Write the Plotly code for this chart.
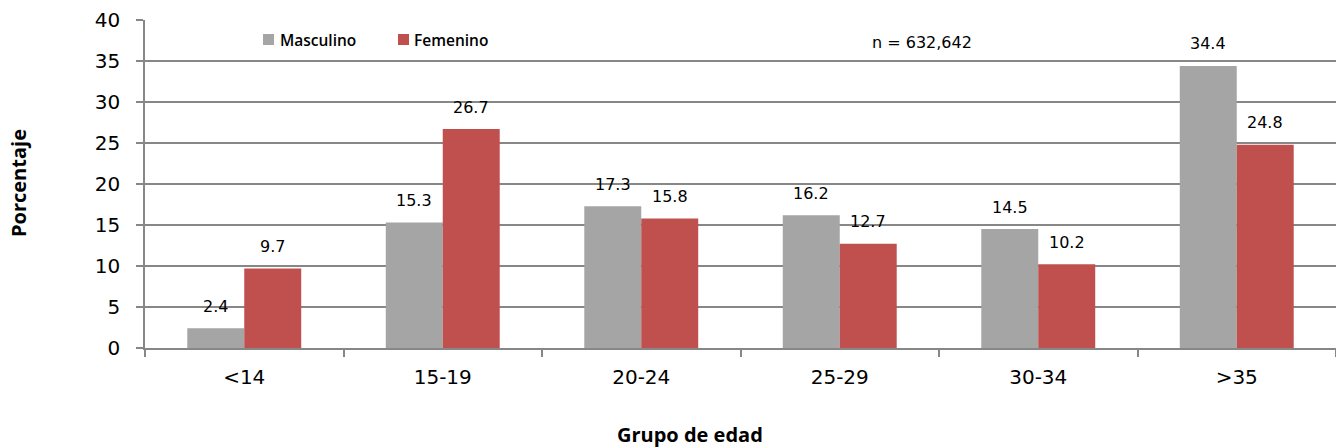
import plotly.graph_objects as go

grupos = ["<14", "15-19", "20-24", "25-29", "30-34", ">35"]
masculino = [2.4, 15.3, 17.3, 16.2, 14.5, 34.4]
femenino = [9.7, 26.7, 15.8, 12.7, 10.2, 24.8]
y_ticks = [0, 5, 10, 15, 20, 25, 30, 35, 40]

GRIS = "#a5a5a5"
ROJO = "#c0504d"
LINEA = "#878787"
FUENTE = "DejaVu Sans"
TITULOS = "Open Sans"

fig = go.Figure()
fig.add_trace(go.Bar(name="Masculino", x=grupos, y=masculino, marker_color=GRIS,
                     marker_line_width=0, showlegend=False))
fig.add_trace(go.Bar(name="Femenino", x=grupos, y=femenino, marker_color=ROJO,
                     marker_line_width=0, showlegend=False))

# value labels above each bar
for serie, vals in ((0, masculino), (1, femenino)):
    for i, v in enumerate(vals):
        fig.add_annotation(x=i + (-0.1435 if serie == 0 else 0.1435), y=v,
                           xref="x", yref="y", text=f"{v:.1f}", showarrow=False,
                           yanchor="middle", yshift=22,
                           font=dict(family=FUENTE, size=16, color="#000"))

# legend drawn as swatches + text
px_x = lambda p: (p - 145) / 1191.0
px_y = lambda p: (348 - p) / 328.0
for nombre, color, x0, xt in (("Masculino", GRIS, 263, 278), ("Femenino", ROJO, 398, 412)):
    fig.add_shape(type="rect", xref="paper", yref="paper",
                  x0=px_x(x0), x1=px_x(x0 + 11), y0=px_y(45), y1=px_y(34),
                  fillcolor=color, line_width=0)
    fig.add_annotation(x=px_x(xt), y=px_y(40), xref="paper", yref="paper",
                       xanchor="left", yanchor="middle", text=nombre, showarrow=False,
                       font=dict(family=TITULOS, size=15.5, weight=600, color="#000"))

fig.add_annotation(x=px_x(922), y=px_y(43), xref="paper", yref="paper",
                   text="n = 632,642", showarrow=False, yanchor="middle",
                   font=dict(family=FUENTE, size=16, color="#000"))

# axis titles
fig.add_annotation(x=px_x(690), y=px_y(434), xref="paper", yref="paper",
                   text="<b>Grupo de edad</b>", showarrow=False, yanchor="middle",
                   borderpad=0, font=dict(family=TITULOS, size=20, color="#000"))
fig.add_annotation(x=px_x(18), y=px_y(183), xref="paper", yref="paper",
                   text="<b>Porcentaje</b>", showarrow=False, textangle=-90,
                   xanchor="center", yanchor="middle",
                   font=dict(family=TITULOS, size=20, color="#000"))

fig.update_layout(
    width=1336, height=447,
    margin=dict(l=145, r=0, t=20, b=99),
    paper_bgcolor="white", plot_bgcolor="white",
    barmode="group", bargap=0.426, bargroupgap=0,
    font=dict(family=FUENTE, color="#000"),
    showlegend=False,
    xaxis=dict(
        tickson="boundaries", ticks="outside", ticklen=7, tickcolor=LINEA, tickwidth=1.5,
        showline=True, linecolor=LINEA, linewidth=1.5, showgrid=False,
        tickfont=dict(family=FUENTE, size=20), ticklabelstandoff=10,
    ),
    yaxis=dict(
        range=[0, 40], tickvals=y_ticks, ticks="outside", ticklen=7, tickcolor=LINEA,
        tickwidth=1.5, showline=True, linecolor=LINEA, linewidth=1.5,
        showgrid=True, gridcolor=LINEA, gridwidth=1.5, zeroline=False,
        tickfont=dict(family=FUENTE, size=20), ticklabelstandoff=12,
    ),
)

fig.write_html("out.html")
